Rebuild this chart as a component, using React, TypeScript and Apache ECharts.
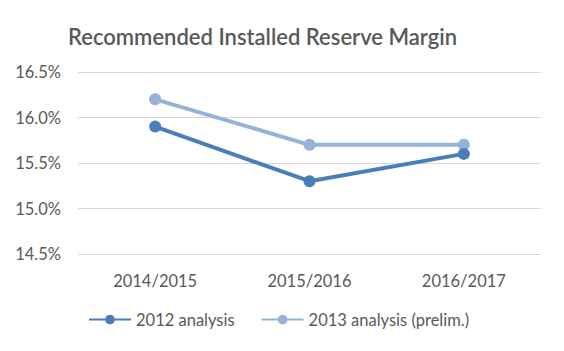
import React, { useEffect, useRef } from "react";
import * as echarts from "echarts";

const categories = ["2014/2015", "2015/2016", "2016/2017"];
const analysis2012 = [15.9, 15.3, 15.6];
const analysis2013 = [16.2, 15.7, 15.7];
const seriesNames = ["2012 analysis", "2013 analysis (prelim.)"];

export default function App() {
  const ref = useRef<HTMLDivElement>(null);
  useEffect(() => {
    const chart = echarts.init(ref.current!, null, { renderer: "svg" });
    const font = "Lato, 'Open Sans', sans-serif";
    chart.setOption({
      animation: false,
      backgroundColor: "#ffffff",
      title: {
        text: "Recommended Installed Reserve Margin",
        left: 63,
        top: 20,
        textStyle: { color: "#595959", fontSize: 22, fontWeight: 600, fontFamily: font },
      },
      grid: { left: 78, right: 23, top: 72, bottom: 97 },
      legend: {
        bottom: 18,
        left: 83,
        itemGap: 26,
        itemWidth: 42,
        itemHeight: 12,
        textStyle: { color: "#595959", fontSize: 16.5, fontFamily: font },
        data: seriesNames,
      },
      xAxis: {
        type: "category",
        data: categories,
        axisLine: { show: false },
        axisTick: { show: false },
        axisLabel: { color: "#595959", fontSize: 16.5, fontFamily: font, margin: 18 },
      },
      yAxis: {
        type: "value",
        min: 14.5,
        max: 16.5,
        interval: 0.5,
        axisLine: { show: false },
        axisTick: { show: false },
        splitLine: { lineStyle: { color: "#d9d9d9", width: 1 } },
        axisLabel: {
          color: "#595959",
          fontSize: 16.5,
          fontFamily: font,
          margin: 17,
          formatter: (v: number) => v.toFixed(1) + "%",
        },
      },
      series: [
        {
          name: seriesNames[0],
          type: "line",
          data: analysis2012,
          symbol: "circle",
          symbolSize: 12,
          lineStyle: { width: 4, color: "#4a7ebb" },
          itemStyle: { color: "#4a7ebb" },
          z: 3,
        },
        {
          name: seriesNames[1],
          type: "line",
          data: analysis2013,
          symbol: "circle",
          symbolSize: 12,
          lineStyle: { width: 4, color: "#95b3d7" },
          itemStyle: { color: "#95b3d7" },
          z: 2,
        },
      ],
    });
    return () => chart.dispose();
  }, []);
  return <div ref={ref} style={{ width: 564, height: 351, margin: -8 }} />;
}
